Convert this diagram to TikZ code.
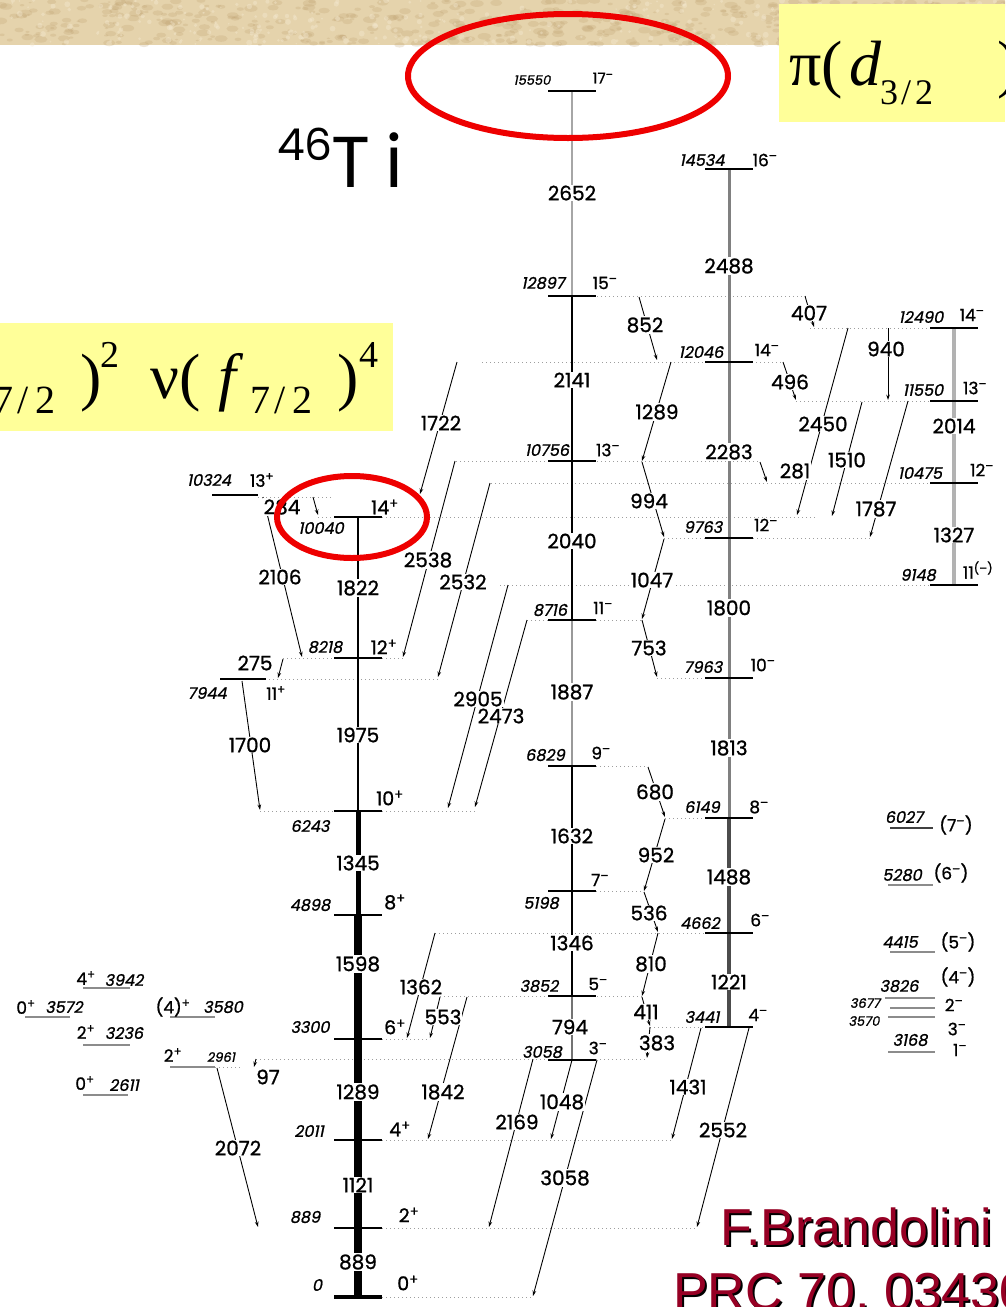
\documentclass[tikz,border=0pt]{standalone}
\usepackage{fontspec}
\usetikzlibrary{arrows.meta}
\setmainfont{Poppins}[FakeBold=1.0]
\newfontfamily\slantfont[FakeSlant=0.2,FakeBold=1.0]{Poppins}
\newfontfamily\titlefont{Poppins}
\newfontfamily\seriffont{Liberation Serif}
\newfontfamily\citefont{Liberation Sans}

\definecolor{parchment}{RGB}{229,211,172}
\definecolor{parchdark}{RGB}{190,160,112}
\definecolor{parchlight}{RGB}{245,234,210}
\definecolor{hilite}{RGB}{255,255,153}
\definecolor{ringred}{RGB}{238,0,0}
\definecolor{citered}{RGB}{150,0,36}

\tikzset{
  lvl/.style={line width=2.6pt},
  sidelvl/.style={line width=2pt, draw=black!45},
  ext/.style={draw=black!38, line width=0.9pt, dash pattern=on 1.3pt off 2.7pt},
  gam/.style={line width=0.9pt, -{Stealth[length=5.5pt,width=3.6pt]}},
  glab/.style={font=\fontsize{20}{20}\selectfont, fill=white, inner sep=1pt},
  ener/.style={font=\slantfont\fontsize{16}{16}\selectfont, inner sep=0pt},
  sener/.style={font=\slantfont\fontsize{13}{13}\selectfont, inner sep=0pt},
  spin/.style={font=\fontsize{19}{19}\selectfont, inner sep=0pt},
  sspin/.style={font=\fontsize{17}{17}\selectfont, inner sep=0pt},
  bigmath/.style={font=\seriffont\fontsize{64}{64}\selectfont, inner sep=0pt, anchor=base west},
  submath/.style={font=\seriffont\fontsize{40}{40}\selectfont, inner sep=0pt, anchor=base west},
  citetext/.style={font=\citefont\fontsize{52}{52}\selectfont, inner sep=0pt, anchor=base west},
}
\newcommand\spP{\textsuperscript{+}}
\newcommand\spM{\textsuperscript{\textendash}}
% gamma transition: name, upper end, lower end
\newcommand\gline[5]{%
  \coordinate (#1a) at (#2,#3);
  \coordinate (#1b) at (#4,#5);
  \draw[gam] (#1a) -- (#1b);}

\begin{document}
\begin{tikzpicture}[x=1pt,y=-1pt]
\clip (0,0) rectangle (1005,1307);
\fill[white] (0,0) rectangle (1005,1307);

% parchment strip along the top
\fill[parchment] (0,0) rectangle (1005,45);
\pgfmathsetseed{17}
\foreach \k in {1,...,520}{
  \pgfmathsetmacro\tx{rnd*1005}
  \pgfmathsetmacro\ty{rnd*45}
  \pgfmathsetmacro\tr{0.8+rnd*2.6}
  \fill[parchdark,opacity=0.25] (\tx,\ty) ellipse [x radius=2*\tr, y radius=\tr];
}
\foreach \k in {1,...,300}{
  \pgfmathsetmacro\tx{rnd*1005}
  \pgfmathsetmacro\ty{rnd*45}
  \pgfmathsetmacro\tr{0.8+rnd*2.2}
  \fill[parchlight,opacity=0.4] (\tx,\ty) circle[radius=\tr];
}

% configuration boxes
\fill[hilite] (0,323) rectangle (393,431);
\fill[hilite] (779,4) rectangle (1005,122);
\node[submath] (cfgLsub) at (-7,413) {7\kern4pt/\kern7pt2};
\node[bigmath] (cfgLpar) at (80,398) {)};
\node[font=\seriffont\fontsize{38}{38}\selectfont, inner sep=0pt, anchor=base west] (cfgLsup) at (100,367) {2};
\node[bigmath] (cfgLnu) at (150,398) {ν(};
\node[bigmath] (cfgLf) at (218,398) {\itshape f};
\node[submath] (cfgLsubb) at (250,413) {7\kern4pt/\kern7pt2};
\node[bigmath] (cfgLparb) at (337,398) {)};
\node[font=\seriffont\fontsize{38}{38}\selectfont, inner sep=0pt, anchor=base west] (cfgLsupb) at (359,367) {4};
\node[bigmath] (cfgRpi) at (789,85) {π(};
\node[bigmath] (cfgRd) at (849,85) {\itshape d};
\node[font=\seriffont\fontsize{36}{36}\selectfont, inner sep=0pt, anchor=base west] (cfgRsub) at (880,104) {3\kern3pt/\kern4pt2};
\node[bigmath] (cfgRpar) at (997,85) {)};

% nuclide name
\node[font=\titlefont\fontsize{44}{44}\selectfont, inner sep=0pt, anchor=base west] (massno) at (277,160) {46};
\node[font=\titlefont\fontsize{72}{72}\selectfont, inner sep=0pt, anchor=base west] (elem) at (331,187) {T\kern15pt i};

% dotted continuations of the levels
\foreach \yy/\xa/\xb in {497/258/333, 517/318/334, 517/382/815, 362/482/708, 362/756/783,
  296/597/807, 328/810/930, 401/796/930, 461/456/548, 461/597/760, 483/491/930,
  538/664/705, 538/753/870, 585/500/930, 620/527/548, 620/596/642, 658/283/334,
  658/382/403, 679/265/438, 678/657/705, 811/260/334, 811/382/477, 766/596/648,
  818/665/705, 891/596/644, 933/435/705, 996/440/548, 996/597/642, 1027/650/705,
  1039/382/430, 1059/256/548, 1059/596/647, 1067/215/240, 1140/382/672,
  1228/382/697, 1297/382/533}
  \draw[ext] (\xa,\yy) -- (\xb,\yy);

% level positions of the four cascades
\foreach \n/\yy in {0/1297,889/1228,2011/1140,3300/1039,4898/915,6243/811,8218/658,10040/517}
  \coordinate (A\n) at (358,\yy);
\foreach \n/\yy in {3058/1060,3852/996,5198/891,6829/766,8716/620,10756/461,12897/296,15550/91}
  \coordinate (B\n) at (572,\yy);
\foreach \n/\yy in {3441/1027,4662/933,6149/818,7963/678,9763/538,12046/362,14534/169}
  \coordinate (C\n) at (729,\yy);
\foreach \n/\yy in {9148/585,10475/483,11550/401,12490/328}
  \coordinate (D\n) at (954,\yy);

% cascade lines
\draw[line width=8pt] (A0) -- (A4898);
\draw[line width=5pt] (A4898) -- (A6243);
\draw[line width=1.3pt] (A6243) -- (A10040);
\draw[line width=1.2pt, black!35] (B12897) -- (B15550);
\draw[line width=1.3pt] (B8716) -- (B12897);
\draw[line width=2.5pt, black!40] (B6829) -- (B8716);
\draw[line width=1.3pt] (B3852) -- (B6829);
\draw[line width=1.3pt, black!55] (B3058) -- (B3852);
\draw[line width=3pt, black!50] (C6149) -- (C14534);
\draw[line width=4pt, black!70] (C3441) -- (C6149);
\draw[line width=4.5pt, black!30] (D9148) -- (D12490);

% level lines
\draw[lvl, line width=3.6pt] ([xshift=-24pt]A0) -- ([xshift=24pt]A0);
\foreach \n in {889,2011,3300,4898,6243,8218,10040}
  \draw[lvl] ([xshift=-24pt]A\n) -- ([xshift=24pt]A\n);
\foreach \n in {3058,3852,5198,6829,8716,10756,12897,15550}
  \draw[lvl] ([xshift=-24pt]B\n) -- ([xshift=24pt]B\n);
\foreach \n in {3441,4662,6149,7963,9763,12046,14534}
  \draw[lvl] ([xshift=-24pt]C\n) -- ([xshift=24pt]C\n);
\foreach \n in {10475,11550,12490}
  \draw[lvl] ([xshift=-24pt]D\n) -- ([xshift=24pt]D\n);
\draw[line width=1.4pt] ([xshift=-24pt]D9148) -- ([xshift=24pt]D9148);
\coordinate (L10324) at (235,495);
\draw[lvl] ([xshift=-23pt]L10324) -- ([xshift=23pt]L10324);
\coordinate (L7944) at (243,679);
\draw[lvl] ([xshift=-23pt]L7944) -- ([xshift=23pt]L7944);

% isolated low-lying levels
\draw[line width=1.5pt, black!75] (890,828) -- (933,828);
\draw[sidelvl] (888,885) -- (933,885);
\draw[sidelvl] (890,952) -- (935,952);
\draw[sidelvl] (885,998) -- (935,998);
\draw[sidelvl] (890,1008) -- (935,1008);
\draw[sidelvl] (888,1017) -- (935,1017);
\draw[sidelvl] (888,1052) -- (935,1052);
\draw[sidelvl] (83,988) -- (130,988);
\draw[sidelvl] (25,1017) -- (70,1017);
\draw[sidelvl] (170,1017) -- (215,1017);
\draw[sidelvl, line width=2.6pt] (83,1045) -- (130,1045);
\draw[sidelvl, line width=2.6pt] (170,1067) -- (215,1067);
\draw[sidelvl] (83,1095) -- (128,1095);

% gamma transitions
\gline{g2106}{263}{497}{302}{657}
\gline{g284}{313}{497}{318}{515}
\gline{g1722}{457}{362}{420}{494}
\gline{g2538}{455}{461}{403}{657}
\gline{g2532}{490}{483}{438}{677}
\gline{g275}{283}{659}{278}{678}
\gline{g1700}{242}{681}{260}{810}
\gline{g2905}{508}{585}{448}{808}
\gline{g2473}{527}{620}{475}{807}
\gline{g852}{639}{297}{657}{360}
\gline{g407}{805}{296}{814}{327}
\gline{g1289}{671}{362}{642}{461}
\gline{g496}{783}{362}{796}{400}
\gline{g940}{888}{328}{888}{400}
\gline{g2450}{848}{328}{797}{515}
\gline{g1510}{862}{402}{832}{516}
\gline{g281}{760}{462}{767}{482}
\gline{g1787}{908}{401}{870}{537}
\gline{g994}{642}{462}{664}{537}
\gline{g1047}{664}{539}{642}{619}
\gline{g753}{642}{620}{657}{677}
\gline{g680}{648}{767}{665}{817}
\gline{g952}{665}{819}{644}{891}
\gline{g536}{644}{892}{658}{932}
\gline{g810}{658}{933}{642}{996}
\gline{g411}{642}{997}{650}{1026}
\gline{g383}{650}{1027}{647}{1058}
\gline{g1362}{435}{933}{407}{1038}
\gline{g553}{440}{997}{430}{1038}
\gline{g1842}{467}{997}{428}{1139}
\gline{g97}{256}{1059}{254}{1067}
\gline{g2072}{217}{1068}{258}{1227}
\gline{g2169}{533}{1059}{489}{1227}
\gline{g1048}{572}{1060}{551}{1139}
\gline{g3058}{597}{1060}{533}{1296}
\gline{g1431}{701}{1028}{672}{1139}
\gline{g2552}{749}{1028}{697}{1227}

% transition energies
\foreach \nm/\xx/\yy in {2106/280/577, 284/282/507, 1722/441/423, 2538/428/560,
  2532/463/582, 275/255/663, 1700/250/745, 2905/478/699, 2473/501/716,
  852/645/325, 407/809/313, 1289/657/412, 496/790/382, 940/886/349,
  2450/823/424, 1510/847/460, 281/795/471, 1787/876/509, 994/649/501,
  1047/652/580, 753/649/648, 680/655/792, 952/656/855, 536/649/913,
  810/651/964, 411/646/1012, 383/657/1043, 1362/421/987, 553/443/1017,
  1842/443/1092, 97/268/1077, 2072/238/1148, 2169/517/1122, 1048/562/1102,
  3058/565/1178, 1431/688/1087, 2552/723/1130}
  \node[glab] (l\nm) at (\xx,\yy) {\nm};
\foreach \nm/\xx/\yy in {889/358/1262, 1121/358/1185, 1289/358/1092, 1598/358/964,
  1345/358/863, 1975/358/735, 1822/358/588}
  \node[glab] (cA\nm) at (\xx,\yy) {\nm};
\foreach \nm/\xx/\yy in {2652/572/193, 2141/572/380, 2040/572/541, 1887/572/692,
  1632/572/836, 1346/572/943, 794/570/1027}
  \node[glab] (cB\nm) at (\xx,\yy) {\nm};
\foreach \nm/\xx/\yy in {2488/729/266, 2283/729/452, 1800/729/608, 1813/729/748,
  1488/729/877, 1221/729/982, 2014/954/426, 1327/954/535}
  \node[glab] (cC\nm) at (\xx,\yy) {\nm};

% level energies
\foreach \nm/\xx/\yy in {0/317/1285, 889/305/1217, 2011/309/1131, 3300/310/1027,
  4898/310/905, 6243/310/826, 8218/325/647, 10040/321/528, 10324/209/480,
  7944/207/693, 12897/543/283, 10756/547/450, 8716/550/610, 6829/545/755,
  5198/541/903, 3852/539/986, 3058/542/1052, 14534/702/160, 12046/701/352,
  9763/703/527, 7963/703/667, 6149/702/807, 4662/700/923, 3441/702/1017,
  12490/921/317, 11550/923/390, 10475/920/473, 9148/918/575,
  6027/904/817, 5280/902/875, 4415/900/942, 3826/899/986, 3168/910/1040,
  3942/124/980, 3572/64/1007, 3580/223/1007, 3236/124/1033, 2611/124/1085}
  \node[ener] (e\nm) at (\xx,\yy) {\nm};
\node[sener] (e15550) at (532,80) {15550};
\node[sener] (e2961) at (221,1057) {2961};
\node[sener] (e3677) at (865,1003) {3677};
\node[sener] (e3570) at (864,1021) {3570};

% spins and parities
\node[spin] (jA0) at (408,1283) {0\spP};
\node[spin] (jA889) at (409,1215) {2\spP};
\node[spin] (jA2011) at (400,1129) {4\spP};
\node[spin] (jA3300) at (395,1027) {6\spP};
\node[spin] (jA4898) at (395,902) {8\spP};
\node[spin] (jA6243) at (390,798) {10\spP};
\node[spin] (jA8218) at (384,647) {12\spP};
\node[spin] (jA10040) at (385,507) {14\spP};
\node[sspin] (j10324) at (262,480) {13\spP};
\node[sspin] (j7944) at (276,693) {11\spP};
\node[sspin, font=\fontsize{15}{15}\selectfont] (jB15550) at (603,78) {17\spM};
\node[sspin] (jB12897) at (605,283) {15\spM};
\node[sspin] (jB10756) at (608,450) {13\spM};
\node[sspin] (jB8716) at (603,608) {11\spM};
\node[sspin] (jB6829) at (601,753) {9\spM};
\node[sspin] (jB5198) at (600,880) {7\spM};
\node[sspin] (jB3852) at (598,984) {5\spM};
\node[sspin] (jB3058) at (598,1048) {3\spM};
\node[sspin] (jC14534) at (765,160) {16\spM};
\node[sspin] (jC12046) at (767,350) {14\spM};
\node[sspin] (jC9763) at (766,525) {12\spM};
\node[sspin] (jC7963) at (763,665) {10\spM};
\node[sspin] (jC6149) at (759,807) {8\spM};
\node[sspin] (jC4662) at (760,920) {6\spM};
\node[sspin] (jC3441) at (758,1015) {4\spM};
\node[sspin] (jD12490) at (972,315) {14\spM};
\node[sspin] (jD11550) at (975,388) {13\spM};
\node[sspin] (jD10475) at (982,470) {12\spM};
\node[sspin] (jD9148) at (978,570) {11\textsuperscript{(\textendash)}};
\node[sspin] (j6027) at (956,825) {(7\spM)};
\node[sspin] (j5280) at (951,873) {(6\spM)};
\node[sspin] (j4415) at (958,942) {(5\spM)};
\node[sspin] (j3826) at (958,977) {(4\spM)};
\node[sspin] (j3677) at (954,1005) {2\spM};
\node[sspin] (j3570) at (957,1029) {3\spM};
\node[sspin] (j3168) at (960,1050) {1\spM};
\node[sspin] (j3942) at (86,978) {4\spP};
\node[sspin] (j3572) at (26,1007) {0\spP};
\node[sspin] (j3580) at (173,1007) {(4)\spP};
\node[sspin] (j3236) at (86,1032) {2\spP};
\node[sspin] (j2961) at (173,1055) {2\spP};
\node[sspin] (j2611) at (85,1083) {0\spP};

% red rings
\draw[ringred, line width=6pt] (568,76) ellipse [x radius=160, y radius=62];
\draw[ringred, line width=6pt] (352,517) ellipse [x radius=75, y radius=41];

% reference
\node[citetext, text=black] (citeAs) at (722,1247) {F.Brandolini};
\node[citetext, text=citered] (citeA) at (720,1245) {F.Brandolini};
\node[citetext, text=black] (citeBs) at (675,1311) {PRC 70, 03430};
\node[citetext, text=citered] (citeB) at (673,1309) {PRC 70, 03430};
\end{tikzpicture}
\end{document}
